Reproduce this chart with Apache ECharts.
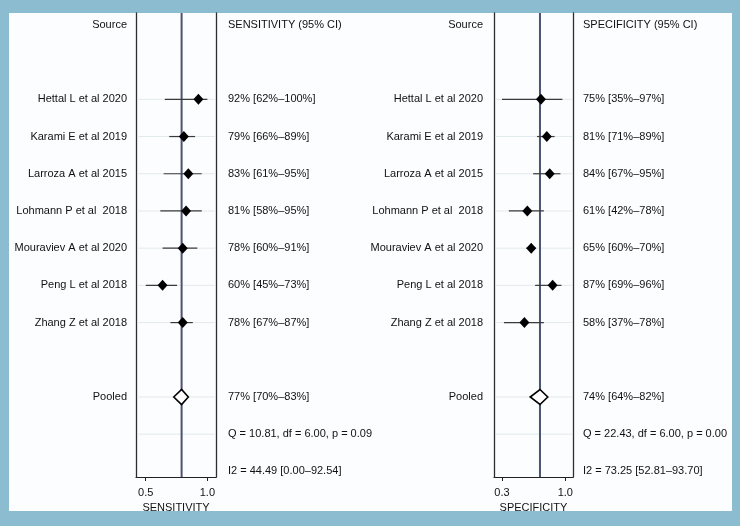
<!DOCTYPE html>
<html>
<head>
<meta charset="utf-8">
<script src="https://cdn.jsdelivr.net/npm/echarts@6/dist/echarts.min.js"></script>
<style>
  html, body { margin: 0; padding: 0; }
  #main { width: 740px; height: 526px; }
</style>
</head>
<body>
<div id="main"></div>
<script>
// studies, top to bottom
var studies = ['Hettal L et al 2020', 'Karami E et al 2019', 'Larroza A et al 2015',
  'Lohmann P et al  2018', 'Mouraviev A et al 2020', 'Peng L et al 2018', 'Zhang Z et al 2018'];

// sensitivity
var sensEst  = [0.92, 0.79, 0.83, 0.81, 0.78, 0.60, 0.78];
var sensLow  = [0.62, 0.66, 0.61, 0.58, 0.60, 0.45, 0.67];
var sensHigh = [1.00, 0.89, 0.95, 0.95, 0.91, 0.73, 0.87];
var sensPooled = [0.77, 0.70, 0.83];      // estimate, low, high
var sensQ  = [10.81, 6.00, 0.09];         // Q, df, p
var sensI2 = [44.49, 0.00, 92.54];
var sensTicks = [0.45, 1.0];
var sensTickLabels = ['0.5', '1.0'];

// specificity
var specEst  = [0.75, 0.81, 0.84, 0.61, 0.65, 0.87, 0.58];
var specLow  = [0.35, 0.71, 0.67, 0.42, 0.60, 0.69, 0.37];
var specHigh = [0.97, 0.89, 0.95, 0.78, 0.70, 0.96, 0.78];
var specPooled = [0.74, 0.64, 0.82];
var specQ  = [22.43, 6.00, 0.00];
var specI2 = [73.25, 52.81, 93.70];
var specTicks = [0.35, 1.0];
var specTickLabels = ['0.3', '1.0'];

// row layout (row 0 = header)
var FIRST_ROW = 2, POOLED_ROW = 10, Q_ROW = 11, I2_ROW = 12;
var ROW_MIN = -0.32, ROW_MAX = 12.15;
var FONT = '11px "Liberation Sans", Arial, sans-serif';
var TEXT_COLOR = '#111';

function pct(v) { return Math.round(v * 100) + '%'; }
function ciText(e, l, h) { return pct(e) + ' [' + pct(l) + '–' + pct(h) + ']'; }

function panel(k, cfg) {
  var ya = 2 * k;
  var rows = [];
  studies.forEach(function (s, i) { rows.push([FIRST_ROW + i]); });
  rows.push([POOLED_ROW]);
  rows.push([Q_ROW]);

  // texts: [column, row] + string
  var texts = [], textData = [];
  function addText(col, row, str) { textData.push([col, row]); texts.push(str); }
  addText(0, 0, 'Source');
  addText(1, 0, cfg.header);
  studies.forEach(function (s, i) {
    addText(0, FIRST_ROW + i, s);
    addText(1, FIRST_ROW + i, ciText(cfg.est[i], cfg.low[i], cfg.high[i]));
  });
  addText(0, POOLED_ROW, 'Pooled');
  addText(1, POOLED_ROW, ciText(cfg.pooled[0], cfg.pooled[1], cfg.pooled[2]));
  addText(1, Q_ROW, 'Q = ' + cfg.q[0].toFixed(2) + ', df = ' + cfg.q[1].toFixed(2) + ', p = ' + cfg.q[2].toFixed(2));
  addText(1, I2_ROW, 'I2 = ' + cfg.i2[0].toFixed(2) + ' [' + cfg.i2[1].toFixed(2) + '–' + cfg.i2[2].toFixed(2) + ']');

  var ciData = studies.map(function (s, i) { return [cfg.low[i], cfg.high[i], FIRST_ROW + i]; });
  var estData = studies.map(function (s, i) { return [cfg.est[i], FIRST_ROW + i]; });

  var yBase = {
    gridIndex: k, type: 'value', inverse: true, min: ROW_MIN, max: ROW_MAX,
    axisLine: { show: true, onZero: false, lineStyle: { color: '#2e2e2e', width: 1.3 } },
    axisTick: { show: false }, axisLabel: { show: false }, splitLine: { show: false }
  };

  return {
    grid: { left: cfg.left, top: 13, width: cfg.width, height: 464 },
    xAxis: {
      gridIndex: k, type: 'value', min: cfg.min, max: cfg.max,
      name: cfg.axisName, nameLocation: 'middle', nameGap: 23,
      nameTextStyle: { color: TEXT_COLOR, fontSize: 11, fontFamily: '"Liberation Sans", Arial' },
      axisLine: { onZero: false, lineStyle: { color: '#222', width: 1.2 } },
      axisTick: { show: true, customValues: cfg.ticks, length: 4, lineStyle: { color: '#222' } },
      axisLabel: {
        customValues: cfg.ticks, margin: 10, color: TEXT_COLOR, fontSize: 11,
        fontFamily: '"Liberation Sans", Arial',
        formatter: function (v) {
          var i = cfg.ticks.indexOf(v);
          return i >= 0 ? cfg.tickLabels[i] : v.toFixed(1);
        }
      },
      splitLine: { show: false }
    },
    yAxis: [Object.assign({ position: 'left' }, yBase), Object.assign({ position: 'right' }, yBase)],
    series: [
      { // faint row guides
        type: 'custom', xAxisIndex: k, yAxisIndex: ya, z: 1, silent: true,
        data: rows,
        renderItem: function (params, api) {
          var a = api.coord([cfg.min, api.value(0)]);
          var b = api.coord([cfg.max, api.value(0)]);
          return { type: 'line', shape: { x1: a[0] + 1, y1: a[1], x2: b[0] - 1, y2: b[1] },
            style: { stroke: '#e1ebee', lineWidth: 1 } };
        }
      },
      { // pooled estimate vertical line
        type: 'custom', xAxisIndex: k, yAxisIndex: ya, z: 2, silent: true,
        data: [[cfg.pooled[0]]],
        renderItem: function (params, api) {
          var a = api.coord([api.value(0), ROW_MIN]);
          var b = api.coord([api.value(0), ROW_MAX]);
          return { type: 'line', shape: { x1: a[0], y1: a[1], x2: b[0], y2: b[1] },
            style: { stroke: '#4b5373', lineWidth: 2 } };
        }
      },
      { // confidence intervals
        type: 'custom', xAxisIndex: k, yAxisIndex: ya, z: 3, silent: true,
        data: ciData,
        renderItem: function (params, api) {
          var a = api.coord([api.value(0), api.value(2)]);
          var b = api.coord([api.value(1), api.value(2)]);
          return { type: 'line', shape: { x1: a[0], y1: a[1], x2: b[0], y2: b[1] },
            style: { stroke: '#3a3a3a', lineWidth: 1.2 } };
        }
      },
      { // study estimates
        type: 'scatter', xAxisIndex: k, yAxisIndex: ya, z: 4, silent: true,
        symbol: 'diamond', symbolSize: [10, 11],
        itemStyle: { color: '#000', opacity: 1 },
        data: estData
      },
      { // pooled diamond
        type: 'custom', xAxisIndex: k, yAxisIndex: ya, z: 5, silent: true,
        data: [[cfg.pooled[0], cfg.pooled[1], cfg.pooled[2], POOLED_ROW]],
        renderItem: function (params, api) {
          var c = api.coord([api.value(0), api.value(3)]);
          var l = api.coord([api.value(1), api.value(3)]);
          var h = api.coord([api.value(2), api.value(3)]);
          var half = 7.5;
          return { type: 'polygon',
            shape: { points: [[l[0], c[1]], [c[0], c[1] - half], [h[0], c[1]], [c[0], c[1] + half]] },
            style: { fill: '#fff', stroke: '#000', lineWidth: 1.6 } };
        }
      },
      { // text columns
        type: 'custom', xAxisIndex: k, yAxisIndex: ya, z: 5, silent: true, clip: false,
        data: textData,
        renderItem: function (params, api) {
          var col = api.value(0);
          var p = api.coord([col === 0 ? cfg.min : cfg.max, api.value(1)]);
          return { type: 'text',
            x: col === 0 ? p[0] - cfg.labelGap : p[0] + cfg.statGap, y: p[1],
            style: { text: texts[params.dataIndex], font: FONT, fill: TEXT_COLOR,
              align: col === 0 ? 'right' : 'left', verticalAlign: 'middle' } };
        }
      }
    ]
  };
}

var left = panel(0, {
  left: 136, width: 80, min: 0.363, max: 1.077,
  est: sensEst, low: sensLow, high: sensHigh, pooled: sensPooled, q: sensQ, i2: sensI2,
  ticks: sensTicks, tickLabels: sensTickLabels,
  header: 'SENSITIVITY (95% CI)', axisName: 'SENSITIVITY', labelGap: 9, statGap: 12
});
var right = panel(1, {
  left: 494, width: 79, min: 0.268, max: 1.079,
  est: specEst, low: specLow, high: specHigh, pooled: specPooled, q: specQ, i2: specI2,
  ticks: specTicks, tickLabels: specTickLabels,
  header: 'SPECIFICITY (95% CI)', axisName: 'SPECIFICITY', labelGap: 11, statGap: 10
});

var chart = echarts.init(document.getElementById('main'));
chart.setOption({
  animation: false,
  backgroundColor: '#8cbcd0',
  graphic: [{
    type: 'rect', left: 9, top: 13, z: -10, silent: true,
    shape: { width: 723, height: 498 },
    style: { fill: '#fcfdfe' }
  }],
  grid: [left.grid, right.grid],
  xAxis: [left.xAxis, right.xAxis],
  yAxis: left.yAxis.concat(right.yAxis),
  series: left.series.concat(right.series)
});
</script>
</body>
</html>
